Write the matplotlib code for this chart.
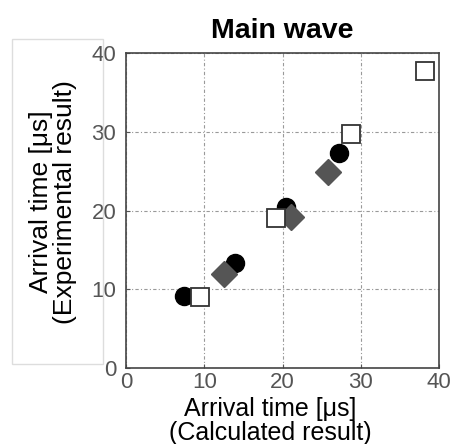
import matplotlib
matplotlib.use('Agg')
import matplotlib.pyplot as plt
from matplotlib.patches import Rectangle

plt.rcParams['font.family'] = ['Liberation Sans', 'DejaVu Sans']

# data
circle_x = [7.4, 13.9, 20.4, 27.2]
circle_y = [9.1, 13.3, 20.4, 27.3]
diamond_x = [12.5, 21.1, 25.8]
diamond_y = [11.9, 19.2, 24.9]
square_x = [9.5, 19.2, 28.8, 38.2]
square_y = [9.0, 19.0, 29.7, 37.7]
ticks = [0, 10, 20, 30, 40]

fig = plt.figure(figsize=(4.52, 4.44), dpi=100)
ax = fig.add_axes([126 / 452, 1 - 368 / 444, 313 / 452, 315 / 444])

# faint frame behind the y label
fig.patches.append(Rectangle((12 / 452, 1 - 364 / 444), 91 / 452, 325 / 444,
                             transform=fig.transFigure, fill=False,
                             edgecolor='#dddddd', lw=1))

ax.plot(circle_x, circle_y, 'o', color='black', ms=13, zorder=3)
ax.plot(diamond_x, diamond_y, 'D', color='#555555', ms=13.5, zorder=4)
ax.plot(square_x, square_y, 's', mfc='white', mec='#333333', mew=1.3, ms=13, zorder=5)

ax.set_xlim(0, 40)
ax.set_ylim(0, 40)
ax.set_xticks(ticks)
ax.set_yticks(ticks)
ax.grid(True, linestyle=(0, (3, 2, 1, 2)), color='#999999', lw=0.8)
ax.tick_params(direction='in', length=3, labelsize=16, labelcolor='#555555',
               color='#555555')
ax.tick_params(axis='x', pad=3)
ax.tick_params(axis='y', pad=7)
for s in ax.spines.values():
    s.set_color('#444444')
    s.set_linewidth(1.2)

ax.set_title('Main wave', fontsize=20.5, fontweight='bold', pad=11)
fig.text(270 / 452, 1 - 397 / 444, 'Arrival time [μs]\n(Calculated result)',
         ha='center', va='top', fontsize=18, linespacing=1.0)
fig.text(53 / 452, 1 - 202 / 444, 'Arrival time [μs]\n(Experimental result)',
         ha='center', va='center', rotation=90, fontsize=19, linespacing=1.05)

fig.savefig('out.png', dpi=100)
